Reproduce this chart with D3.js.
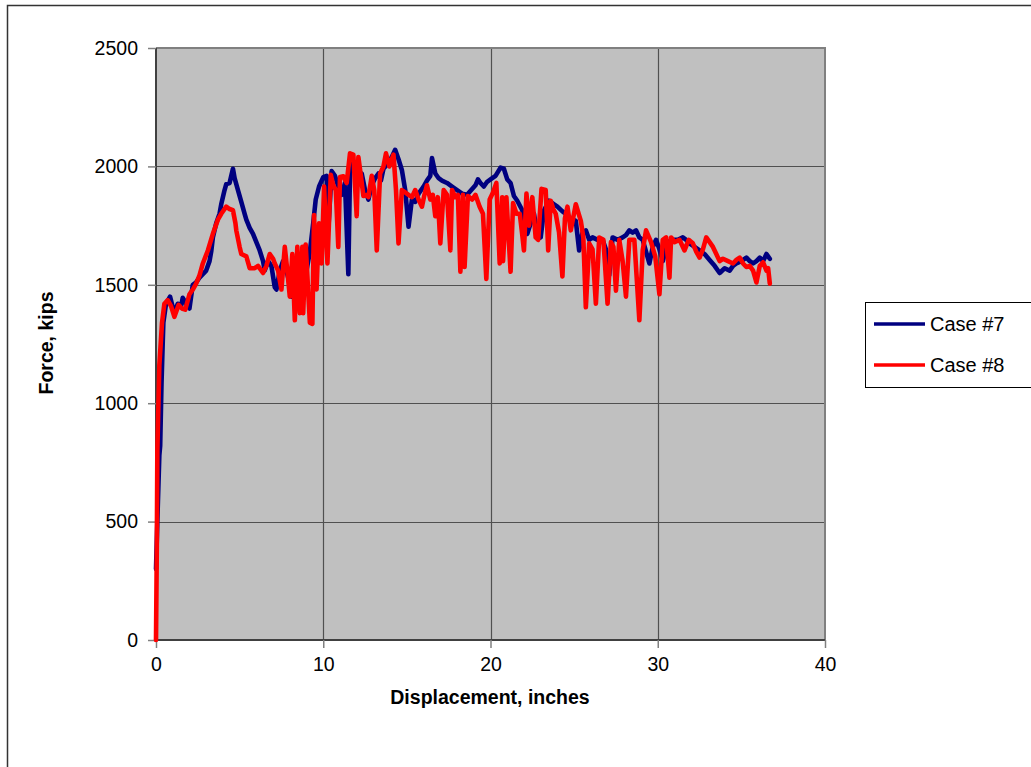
<!DOCTYPE html>
<html>
<head>
<meta charset="utf-8">
<script src="https://cdn.jsdelivr.net/npm/d3@7"></script>
<style>
  html, body { margin: 0; padding: 0; background: #ffffff; }
  svg { display: block; }
  text { font-family: "Liberation Sans", Arial, sans-serif; fill: #000; }
</style>
</head>
<body>
<script>
// Force-displacement records, [displacement (in), force (kips)]
const case7 = [
  [0,300],[0.1,550],[0.2,780],[0.25,820],[0.33,1085],[0.4,1250],[0.44,1340],[0.6,1420],[0.84,1450],[0.95,1420],
  [1.1,1380],[1.3,1420],[1.5,1410],[1.6,1445],[1.8,1420],[2.0,1400],[2.2,1500],[2.4,1510],[2.6,1530],[2.8,1545],
  [3.0,1560],[3.2,1600],[3.3,1640],[3.4,1700],[3.6,1760],[3.8,1800],[3.9,1840],[4.1,1900],[4.2,1925],[4.4,1930],
  [4.5,1960],[4.6,1990],[4.7,1950],[4.9,1900],[5.1,1850],[5.3,1800],[5.4,1775],[5.6,1740],[5.8,1715],[6.0,1680],
  [6.2,1645],[6.4,1600],[6.5,1560],[6.7,1600],[6.9,1580],[7.1,1490],[7.2,1480],[7.4,1560],[7.6,1600],[7.8,1560],
  [8.0,1500],[8.1,1450],[8.3,1600],[8.5,1620],[8.7,1580],[8.9,1660],[9.0,1560],[9.2,1640],[9.4,1760],[9.55,1860],
  [9.75,1915],[10.0,1955],[10.2,1960],[10.3,1730],[10.5,1980],[10.7,1960],[10.9,1915],[11.1,1880],[11.3,1930],[11.5,1545],
  [11.6,1980],[11.7,2040],[11.85,2000],[12.0,1990],[12.15,1950],[12.3,1970],[12.5,1900],[12.7,1860],[12.9,1920],[13.1,1950],
  [13.3,1970],[13.45,1940],[13.6,1990],[13.9,2015],[14.1,2040],[14.3,2070],[14.5,2030],[14.7,1985],[14.9,1900],[15.1,1745],
  [15.3,1860],[15.5,1850],[15.7,1885],[16.0,1915],[16.2,1940],[16.4,1960],[16.5,2035],[16.7,1970],[16.9,1950],[17.1,1940],
  [17.4,1930],[17.7,1915],[18.0,1900],[18.3,1885],[18.6,1880],[18.85,1900],[19.1,1920],[19.25,1945],[19.4,1930],[19.6,1915],
  [19.8,1935],[20.0,1945],[20.3,1960],[20.6,1995],[20.8,1990],[21.0,1945],[21.2,1930],[21.4,1875],[21.6,1855],[21.9,1815],
  [22.2,1715],[22.4,1760],[22.6,1800],[22.8,1715],[23.0,1700],[23.2,1815],[23.5,1855],[23.8,1840],[24.0,1830],[24.3,1810],
  [24.5,1800],[24.8,1780],[25.1,1770],[25.3,1645],[25.5,1720],[25.7,1730],[25.9,1690],[26.1,1700],[26.4,1690],[26.7,1690],
  [26.9,1650],[27.1,1540],[27.3,1700],[27.6,1690],[27.9,1700],[28.1,1710],[28.3,1730],[28.5,1720],[28.7,1730],[28.9,1700],
  [29.1,1690],[29.3,1640],[29.5,1590],[29.7,1660],[29.9,1690],[30.1,1650],[30.3,1600],[30.6,1680],[30.9,1690],[31.2,1690],
  [31.5,1700],[31.7,1690],[31.9,1675],[32.2,1660],[32.5,1645],[32.8,1630],[33.1,1605],[33.4,1580],[33.7,1550],[34.0,1570],
  [34.3,1560],[34.5,1580],[34.7,1590],[35.0,1600],[35.3,1615],[35.5,1600],[35.7,1590],[35.9,1600],[36.1,1615],[36.3,1600],
  [36.5,1630],[36.7,1610]
];

const case8 = [
  [0,0],[0.05,400],[0.08,800],[0.2,1160],[0.36,1340],[0.5,1420],[0.7,1435],[0.9,1410],[1.1,1365],[1.35,1415],
  [1.55,1400],[1.75,1395],[2.0,1460],[2.2,1480],[2.4,1505],[2.6,1540],[2.8,1590],[3.1,1645],[3.4,1715],[3.7,1775],
  [3.9,1800],[4.2,1830],[4.4,1820],[4.6,1815],[4.75,1760],[4.8,1730],[5.0,1660],[5.1,1630],[5.4,1620],[5.6,1570],
  [5.9,1570],[6.1,1580],[6.4,1550],[6.6,1580],[6.8,1630],[7.0,1610],[7.1,1590],[7.3,1560],[7.5,1480],[7.7,1660],
  [7.85,1560],[8.0,1450],[8.15,1630],[8.3,1350],[8.45,1660],[8.6,1380],[8.75,1660],[8.8,1380],[8.95,1670],[9.2,1340],
  [9.35,1335],[9.45,1795],[9.6,1480],[9.75,1760],[9.9,1590],[10.05,1915],[10.25,1590],[10.45,1965],[10.6,1920],[10.75,1900],
  [10.9,1660],[11.0,1955],[11.2,1958],[11.4,1930],[11.6,2055],[11.8,2050],[12.0,1790],[12.1,2040],[12.25,1960],[12.4,1875],
  [12.6,1880],[12.7,1870],[12.9,1960],[13.05,1900],[13.2,1645],[13.4,1970],[13.6,2000],[13.75,2055],[13.95,2000],[14.2,2050],
  [14.35,1900],[14.5,1675],[14.7,1900],[14.9,1890],[15.1,1880],[15.3,1870],[15.5,1900],[15.7,1860],[15.9,1830],[16.05,1880],
  [16.2,1920],[16.4,1860],[16.55,1880],[16.7,1790],[16.85,1870],[17.0,1675],[17.2,1900],[17.4,1880],[17.6,1645],[17.7,1900],
  [17.9,1870],[18.05,1880],[18.2,1555],[18.35,1880],[18.45,1575],[18.65,1875],[18.9,1860],[19.1,1880],[19.35,1830],[19.55,1800],
  [19.75,1525],[19.95,1860],[20.15,1890],[20.35,1930],[20.55,1590],[20.7,1870],[20.75,1600],[20.95,1870],[21.2,1555],[21.35,1845],
  [21.55,1800],[21.75,1800],[21.9,1710],[22.0,1645],[22.15,1885],[22.3,1750],[22.5,1870],[22.7,1700],[22.85,1690],[23.05,1905],
  [23.3,1900],[23.45,1645],[23.6,1855],[23.75,1820],[23.9,1800],[24.1,1720],[24.3,1535],[24.45,1780],[24.6,1830],[24.8,1730],
  [25.1,1840],[25.4,1770],[25.55,1700],[25.7,1405],[25.9,1675],[26.1,1650],[26.3,1420],[26.5,1700],[26.75,1690],[27.0,1420],
  [27.2,1680],[27.35,1660],[27.5,1475],[27.7,1690],[27.9,1600],[28.1,1450],[28.3,1690],[28.6,1690],[28.9,1350],[29.1,1645],
  [29.3,1730],[29.6,1680],[29.85,1620],[30.1,1460],[30.3,1690],[30.5,1700],[30.7,1530],[30.8,1700],[31.0,1680],[31.3,1690],
  [31.6,1645],[31.85,1690],[32.1,1675],[32.3,1640],[32.5,1615],[32.7,1650],[32.9,1700],[33.1,1680],[33.3,1660],[33.5,1630],
  [33.7,1600],[33.9,1610],[34.2,1600],[34.5,1590],[34.7,1605],[34.9,1615],[35.1,1590],[35.3,1575],[35.5,1580],[35.7,1560],
  [35.9,1510],[36.1,1580],[36.3,1595],[36.5,1560],[36.6,1570],[36.7,1505]
];

const seriesNames = ["Case #7", "Case #8"];
const seriesColors = ["#000080", "#ff0000"];
const xTicks = [0, 10, 20, 30, 40];
const yTicks = [0, 500, 1000, 1500, 2000, 2500];

const W = 1031, H = 767;
const plot = { left: 156, top: 48, right: 825, bottom: 640 };

const svg = d3.select("body").append("svg").attr("width", W).attr("height", H);

// Outer chart frame (extends past the window on right and bottom)
svg.append("rect")
  .attr("x", 7.5).attr("y", 5.5)
  .attr("width", W + 20).attr("height", H + 20)
  .attr("fill", "#fff").attr("stroke", "#333").attr("stroke-width", 1.5);

const x = d3.scaleLinear().domain([0, 40]).range([plot.left, plot.right]);
const y = d3.scaleLinear().domain([0, 2500]).range([plot.bottom, plot.top]);

// Plot area
svg.append("rect")
  .attr("x", plot.left).attr("y", plot.top)
  .attr("width", plot.right - plot.left).attr("height", plot.bottom - plot.top)
  .attr("fill", "#c0c0c0");

// Gridlines
const grid = svg.append("g").attr("stroke", "#505050").attr("stroke-width", 1.2);
grid.selectAll("line.h").data(yTicks.slice(1, -1)).join("line")
  .attr("x1", plot.left).attr("x2", plot.right)
  .attr("y1", d => Math.round(y(d)) + 0.5).attr("y2", d => Math.round(y(d)) + 0.5);
grid.selectAll("line.v").data(xTicks.slice(1, -1)).join("line")
  .attr("y1", plot.top).attr("y2", plot.bottom)
  .attr("x1", d => Math.round(x(d)) + 0.5).attr("x2", d => Math.round(x(d)) + 0.5);

// Top and right borders of plot area
svg.append("line").attr("x1", plot.left).attr("x2", plot.right + 1)
  .attr("y1", plot.top).attr("y2", plot.top).attr("stroke", "#808080").attr("stroke-width", 2);
svg.append("line").attr("x1", plot.right).attr("x2", plot.right)
  .attr("y1", plot.top).attr("y2", plot.bottom).attr("stroke", "#808080").attr("stroke-width", 2);

// Axes
const xAxis = d3.axisBottom(x).tickValues(xTicks).tickSize(8).tickPadding(9).tickFormat(d3.format("d"));
const yAxis = d3.axisLeft(y).tickValues(yTicks).tickSize(8).tickPadding(10).tickFormat(d3.format("d"));

const gx = svg.append("g").attr("transform", `translate(0,${plot.bottom})`).call(xAxis);
const gy = svg.append("g").attr("transform", `translate(${plot.left},0)`).call(yAxis);

[gx, gy].forEach(g => {
  g.select(".domain").attr("stroke", "#404040").attr("stroke-width", 2);
  g.selectAll(".tick line").attr("stroke", "#808080").attr("stroke-width", 1.5);
  g.selectAll(".tick text").attr("font-size", 19.5).attr("font-family", "'Liberation Sans', Arial, sans-serif").attr("fill", "#000");
});
gx.select(".domain").attr("d", `M${plot.left},0H${plot.right}`);
gy.select(".domain").attr("d", `M0,${plot.bottom}V${plot.top}`);

// Series lines
const line = d3.line().x(d => x(d[0])).y(d => y(d[1]));
[case7, case8].forEach((data, i) => {
  svg.append("path")
    .datum(data)
    .attr("d", line)
    .attr("fill", "none")
    .attr("stroke", seriesColors[i])
    .attr("stroke-width", 4.6)
    .attr("stroke-linejoin", "round")
    .attr("stroke-linecap", "round");
});

// Axis titles
svg.append("text")
  .attr("x", 490).attr("y", 704)
  .attr("text-anchor", "middle")
  .attr("font-size", 19.5).attr("font-weight", "bold")
  .text("Displacement, inches");

svg.append("text")
  .attr("transform", "translate(53,343) rotate(-90)")
  .attr("text-anchor", "middle")
  .attr("font-size", 19.5).attr("font-weight", "bold")
  .text("Force, kips");

// Legend
const legend = svg.append("g");
legend.append("rect")
  .attr("x", 865.5).attr("y", 302.5)
  .attr("width", 200).attr("height", 85)
  .attr("fill", "#fff").attr("stroke", "#000").attr("stroke-width", 1);
seriesNames.forEach((name, i) => {
  const ly = 324 + i * 41;
  legend.append("line")
    .attr("x1", 874).attr("x2", 925)
    .attr("y1", ly).attr("y2", ly)
    .attr("stroke", seriesColors[i]).attr("stroke-width", 3.5);
  legend.append("text")
    .attr("x", 930).attr("y", ly + 7)
    .attr("font-size", 20)
    .text(name);
});
</script>
</body>
</html>
